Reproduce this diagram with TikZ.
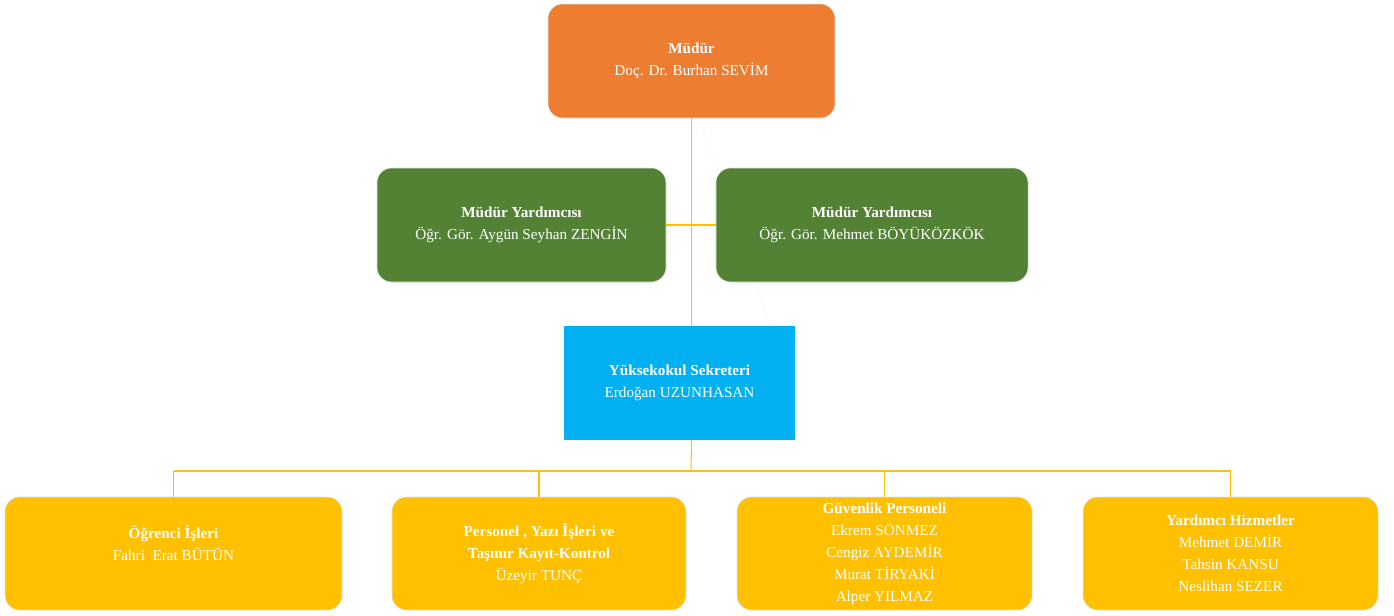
\documentclass[tikz,border=0pt]{standalone}
\usepackage{fontspec}
\setmainfont{Liberation Serif}
\usetikzlibrary{positioning}
\definecolor{chiefcol}{HTML}{ED7D31}
\definecolor{deputycol}{HTML}{548235}
\definecolor{secrcol}{HTML}{00B0F0}
\definecolor{officecol}{HTML}{FFC000}
\begin{document}
\begin{tikzpicture}
    [
        x=0.75pt, y=-0.75pt,
        unit/.style={rectangle, draw=black!12, line width=0.4pt, text=white, align=center,
            font=\fontsize{11.4}{16.5}\selectfont, inner sep=0pt},
        chief/.style={unit, fill=chiefcol, rounded corners=11pt, minimum height=85.5pt},
        deputy/.style={unit, fill=deputycol, rounded corners=11pt, minimum height=85.5pt},
        secretary/.style={unit, fill=secrcol, draw=none, minimum height=85.5pt},
        office/.style={unit, fill=officecol, rounded corners=11pt, minimum height=84.75pt},
        link/.style={draw=officecol, line width=0.8pt},
    ]
    \useasboundingbox (0,0) rectangle (1394,615);
    \coordinate (faint1) at (700,120);
    \coordinate (faint2) at (770,325);
    \draw [black!5] (faint1) -- (faint2);
    \node (mudur) at (691.5,61) [chief, minimum width=215.25pt] {\textbf{Müdür}\\Doç. Dr. Burhan SEVİM};
    \node (yrd1) at (521.5,225) [deputy, minimum width=216.75pt] {\textbf{Müdür Yardımcısı}\\Öğr. Gör. Aygün Seyhan ZENGİN};
    \node (yrd2) at (872,225) [deputy, minimum width=234pt] {\textbf{Müdür Yardımcısı}\\Öğr. Gör. Mehmet BÖYÜKÖZKÖK};
    \node (sekr) at (679.5,383) [secretary, minimum width=173.25pt] {\textbf{Yüksekokul Sekreteri}\\Erdoğan UZUNHASAN};
    \node (ogr) at (173.5,553.5) [office, minimum width=252.75pt] {\textbf{Öğrenci İşleri}\\Fahri\ \ Erat BÜTÜN\\\mbox{}};
    \node (pers) at (539,553.5) [office, minimum width=220.5pt] {\textbf{Personel , Yazı İşleri ve}\\\textbf{Taşınır Kayıt-Kontrol}\\Üzeyir TUNÇ};
    \node (guv) at (884.5,553.5) [office, minimum width=221.25pt] {\textbf{Güvenlik Personeli}\\Ekrem SÖNMEZ\\Cengiz AYDEMİR\\Murat TİRYAKİ\\Alper YILMAZ};
    \node (hiz) at (1230.5,553.5) [office, minimum width=221.25pt] {\textbf{Yardımcı Hizmetler}\\Mehmet DEMİR\\Tahsin KANSU\\Neslihan SEZER};
    \coordinate (bus) at (691,471);
    \draw [link] (mudur.south) -- (mudur.south |- sekr.north);
    \draw [link] (yrd1.east) -- (yrd2.west);
    \draw [link] (mudur.south |- sekr.south) -- (bus);
    \draw [link] (ogr.north |- bus) -- (hiz.north |- bus);
    \draw [link] (ogr.north |- bus) -- (ogr.north);
    \draw [link] (pers.north |- bus) -- (pers.north);
    \draw [link] (guv.north |- bus) -- (guv.north);
    \draw [link] (hiz.north |- bus) -- (hiz.north);
\end{tikzpicture}
\end{document}
